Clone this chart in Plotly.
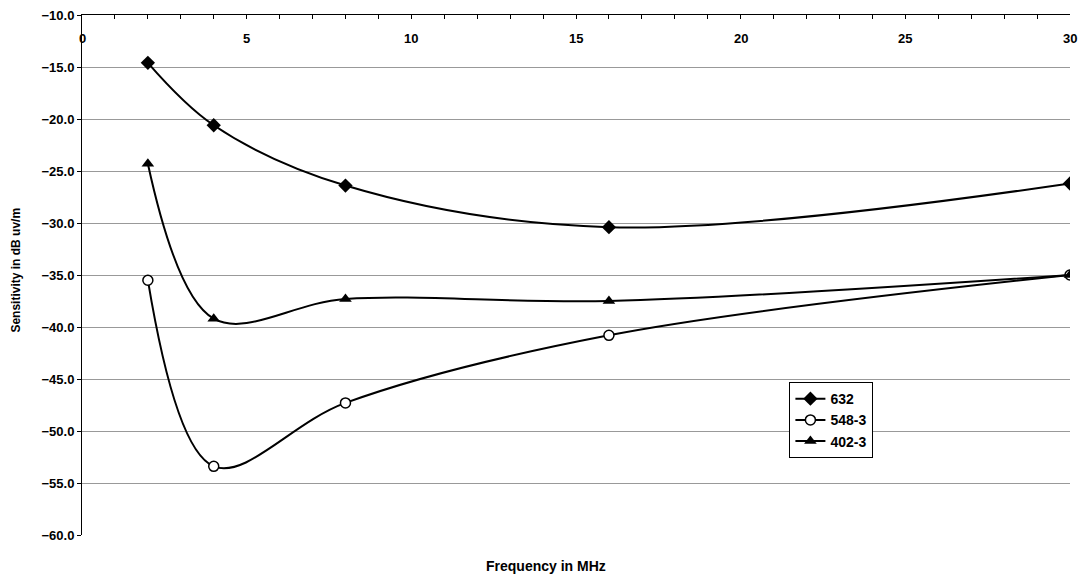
import plotly.graph_objs as go

# Frequencies (MHz) measured
freq = [2, 4, 8, 16, 30]

# Sensitivity readings (dB uv/m) for each receiver
s_632 = [-14.6, -20.6, -26.4, -30.4, -26.2]
s_548_3 = [-35.5, -53.4, -47.3, -40.8, -35.0]
s_402_3 = [-24.3, -39.2, -37.3, -37.5, -35.0]

y_ticks = [-10, -15, -20, -25, -30, -35, -40, -45, -50, -55, -60]
x_ticks = [0, 5, 10, 15, 20, 25, 30]

font_family = "Liberation Sans, Arial, sans-serif"

# Create the traces, smoothed like the original spreadsheet lines
data = [
    go.Scatter(x=freq, y=s_632, name='632', mode='lines+markers',
               line=dict(color='black', width=2, shape='spline', smoothing=1),
               marker=dict(symbol='diamond', size=11, color='black')),
    go.Scatter(x=freq, y=s_548_3, name='548-3', mode='lines+markers',
               line=dict(color='black', width=2, shape='spline', smoothing=1),
               marker=dict(symbol='circle', size=10, color='white',
                           line=dict(color='black', width=1.5))),
    go.Scatter(x=freq, y=s_402_3, name='402-3', mode='lines+markers',
               line=dict(color='black', width=2, shape='spline', smoothing=1),
               marker=dict(symbol='triangle-up', size=11, color='black')),
]

# x tick labels sit just under the top axis line, inside the plot
annotations = [
    dict(text=str(v), x=v, xref='x', y=1, yref='paper',
         xanchor='center', yanchor='top', yshift=-14, showarrow=False,
         font=dict(size=13, weight='bold'))
    for v in x_ticks
]
annotations += [
    dict(text='Frequency in MHz', xref='paper', yref='paper',
         x=0.47, y=-0.06, xanchor='center', yanchor='middle',
         showarrow=False, font=dict(size=14, weight='bold')),
    dict(text='Sensitivity in dB uv/m', xref='paper', yref='paper',
         x=-0.067, y=0.51, xanchor='center', yanchor='middle',
         textangle=-90, showarrow=False, font=dict(size=12, weight='bold')),
]

layout = go.Layout(
    width=1084, height=581,
    margin=dict(l=82, r=14, t=15, b=46, autoexpand=False),
    paper_bgcolor='white', plot_bgcolor='white',
    font=dict(family=font_family, color='black', size=12),
    showlegend=True,
    legend=dict(x=0.716, y=0.294, xanchor='left', yanchor='top',
                bgcolor='white', bordercolor='black', borderwidth=1,
                font=dict(family=font_family, size=14, weight='bold'),
                tracegroupgap=0, itemwidth=30),
    xaxis=dict(range=[0, 30], side='top', tickvals=x_ticks,
               showticklabels=False, automargin=False,
               ticks='inside', ticklen=4, tickcolor='black',
               minor=dict(dtick=1, ticks='inside', ticklen=4, tickcolor='black'),
               showline=True, linecolor='black', linewidth=1,
               showgrid=False, zeroline=False),
    yaxis=dict(range=[-60, -10], tickvals=y_ticks, tickformat='.1f',
               automargin=False,
               ticks='outside', ticklen=4, tickcolor='black',
               tickfont=dict(size=13, weight='bold'),
               showline=True, linecolor='black', linewidth=1,
               showgrid=True, gridcolor='#999999', gridwidth=1,
               zeroline=False),
    annotations=annotations,
)

fig = go.Figure(data=data, layout=layout)

# drop the default page margin so the figure fills the window exactly
fig.write_html("out.html", config={'displayModeBar': False},
               post_script="document.body.style.margin='0px';")
